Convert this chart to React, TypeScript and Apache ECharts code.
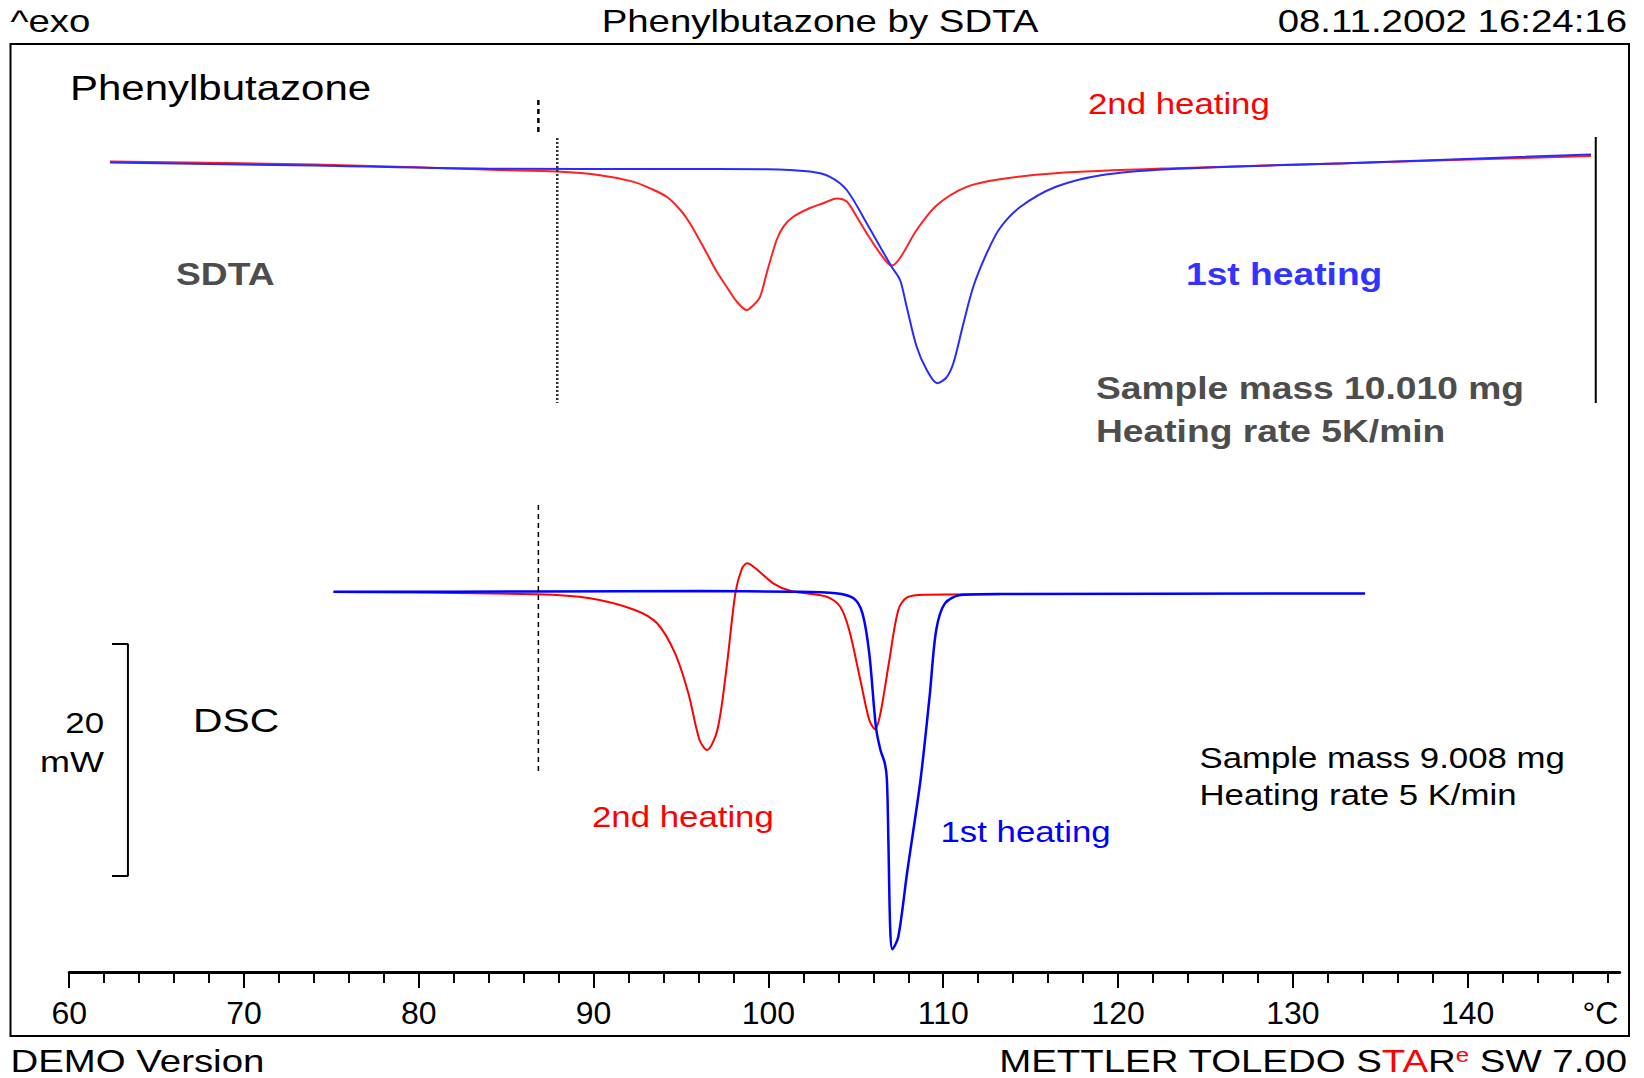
import React, { useEffect, useRef } from "react";
import * as echarts from "echarts";

// ---- SDTA (arbitrary K units, hidden axis) ----
const sdtaRedT = [62.33, 74.04, 84.65, 87.89, 90.37, 92.25, 93.24, 94.18, 94.96, 95.51, 96.47, 97.04, 97.61, 98.19, 98.76, 99.14, 99.52, 99.9, 100.47, 100.85, 101.42, 102.38, 103.14, 103.91, 104.48, 105.05, 105.62, 106.38, 107.05, 107.53, 108.48, 109.63, 111.34, 113.25, 116.45, 122.86, 133.05, 147.06];
const sdtaRedV = [0.006, -0.001, -0.015, -0.019, -0.028, -0.044, -0.061, -0.082, -0.115, -0.148, -0.223, -0.269, -0.307, -0.344, -0.365, -0.353, -0.332, -0.273, -0.19, -0.157, -0.132, -0.11, -0.098, -0.086, -0.094, -0.132, -0.173, -0.223, -0.254, -0.235, -0.165, -0.103, -0.057, -0.038, -0.023, -0.011, 0.002, 0.02];

const sdtaBlueT = [62.33, 74.04, 84.65, 94.18, 99.9, 102.38, 103.52, 104.48, 105.62, 107.05, 107.53, 107.91, 108.48, 109.06, 109.65, 110.16, 110.58, 111.13, 111.72, 112.49, 113.25, 114.42, 116.45, 119.03, 122.86, 133.05, 147.06];
const sdtaBlueV = [0.004, -0.004, -0.012, -0.0125, -0.013, -0.019, -0.032, -0.065, -0.148, -0.257, -0.29, -0.357, -0.457, -0.515, -0.548, -0.535, -0.498, -0.403, -0.307, -0.223, -0.16, -0.107, -0.057, -0.028, -0.013, 0.002, 0.024];

// ---- DSC (mW) ----
const dscRedT = [75.12, 86.74, 89.79, 92.36, 93.63, 94.66, 95.42, 96.06, 96.49, 97.08, 97.59, 98.11, 98.49, 98.79, 99.26, 100.27, 101.29, 103.34, 104.11, 104.62, 105.26, 105.77, 106.1, 106.41, 106.92, 107.43, 107.93, 108.96, 113.25];
const dscRedV = [-0.04, -0.24, -0.58, -1.59, -2.74, -5.33, -8.77, -12.8, -13.66, -11.94, -6.77, -0.15, 2.0, 2.43, 2.0, 0.71, 0.04, -0.45, -1.31, -3.32, -7.63, -11.08, -11.88, -10.5, -5.9, -1.59, -0.5, -0.27, -0.24];

const dscBlueT = [75.12, 86.93, 96.19, 101.29, 103.85, 104.87, 105.38, 105.77, 106.15, 106.41, 106.66, 106.78, 106.87, 106.97, 107.09, 107.43, 107.93, 108.7, 109.22, 109.6, 110.1, 111.0, 113.25, 134.13];
const dscBlueV = [-0.02, 0, 0.04, -0.02, -0.15, -0.59, -1.88, -5.33, -11.66, -13.66, -14.81, -16.25, -22.0, -29.18, -30.84, -29.76, -24.29, -16.25, -9.07, -3.32, -1.02, -0.3, -0.21, -0.17];

// ---- axis ticks ----
const majorTicks = [60, 70, 80, 90, 100, 110, 120, 130, 140];
const minorTicks = [62, 64, 66, 68, 72, 74, 76, 78, 82, 84, 86, 88, 92, 94, 96, 98, 102, 104, 106, 108, 112, 114, 116, 118, 122, 124, 126, 128, 132, 134, 136, 138, 142, 144, 146, 148];
const unitLabelPos = 147.6;

// ---- reference markers ----
const sdtaDashed = [[86.84, 0.16], [86.84, 0.08]];
const sdtaDotted = [[87.92, 0.065], [87.92, -0.5975]];
const sdtaRight = [[147.33, 0.0675], [147.33, -0.5975]];
const dscDashed = [[86.84, 7.46], [86.84, -15.82]];
const scaleBar = [[62.45, -4.53], [63.36, -4.53], [63.36, -24.53], [62.45, -24.53]];

const zip = (a: number[], b: number[]) => a.map((t, i) => [t, b[i]]);

const FONT = "'Liberation Sans', Arial, sans-serif";
const SX = 1.2;

function txt(text: string, x: number, y: number, size: number, opts: any = {}) {
  return {
    type: "text",
    x,
    y,
    scaleX: SX,
    silent: true,
    style: {
      text,
      fontSize: size,
      fontFamily: FONT,
      fontWeight: opts.bold ? "bold" : "normal",
      fill: opts.color || "#000",
      align: opts.align || "left",
      verticalAlign: "middle",
    },
  };
}

export default function App() {
  const ref = useRef<HTMLDivElement>(null);
  useEffect(() => {
    if (!ref.current) return;
    const chart = echarts.init(ref.current, undefined, { renderer: "svg" });
    const lineS = (data: number[][], color: string, yIdx: number, width = 2, type: any = "solid", smooth: any = 0.3, z = 2) => ({
      type: "line",
      data,
      xAxisIndex: 0,
      yAxisIndex: yIdx,
      showSymbol: false,
      symbol: "none",
      smooth,
      silent: true,
      z,
      lineStyle: { color, width, type },
    });
    const option: any = {
      animation: false,
      backgroundColor: "#ffffff",
      grid: { left: 69.2, right: 24.3, top: 44, bottom: 106, containLabel: false },
      xAxis: [
        {
          type: "value",
          min: 60,
          max: 148.7,
          position: "bottom",
          axisLine: { show: true, onZero: false, lineStyle: { color: "#000", width: 3 } },
          axisTick: { show: true, customValues: majorTicks, length: 16, lineStyle: { color: "#000", width: 2 } },
          axisLabel: {
            show: true,
            customValues: [...majorTicks, unitLabelPos],
            formatter: (v: number) => (v > 145 ? "°C" : String(v)),
            fontSize: 32,
            fontFamily: FONT,
            color: "#000",
            margin: 25,
          },
          splitLine: { show: false },
        },
        {
          type: "value",
          min: 60,
          max: 148.7,
          position: "bottom",
          axisLine: { show: false, onZero: false },
          axisTick: { show: true, customValues: minorTicks, length: 11, lineStyle: { color: "#000", width: 2 } },
          axisLabel: { show: false },
          splitLine: { show: false },
        },
      ],
      yAxis: [
        { type: "value", min: -32.8, max: 47.2, show: false, splitLine: { show: false } },
        { type: "value", min: -2.02, max: 0.3, show: false, splitLine: { show: false } },
      ],
      series: [
        lineS(zip(sdtaRedT, sdtaRedV), "#ff2020", 1),
        lineS(zip(sdtaBlueT, sdtaBlueV), "#2a2aff", 1),
        lineS(zip(dscRedT, dscRedV), "#ff0000", 0),
        lineS(zip(dscBlueT, dscBlueV), "#0000ff", 0, 2.5),
        lineS(sdtaDashed, "#000", 1, 2.5, [5, 4], false),
        lineS(sdtaDotted, "#333", 1, 2.5, [2, 2], false),
        lineS(sdtaRight, "#000", 1, 2, "solid", false),
        lineS(dscDashed, "#000", 0, 1.5, [5, 4], false),
        lineS(scaleBar, "#000", 0, 2, "solid", false),
      ],
      graphic: [
        {
          type: "rect",
          silent: true,
          shape: { x: 10.5, y: 44, width: 1618.5, height: 992 },
          style: { fill: "none", stroke: "#000", lineWidth: 2 },
        },
        txt("^exo", 10.5, 21, 32),
        txt("Phenylbutazone by SDTA", 820, 21, 32, { align: "center" }),
        txt("08.11.2002 16:24:16", 1627, 21, 32, { align: "right" }),
        txt("DEMO Version", 10.5, 1061, 32),
        {
          type: "text",
          x: 1627,
          y: 1061,
          scaleX: SX,
          silent: true,
          style: {
            text: "{a|METTLER TOLEDO S}{r|TA}{a|R}{s|e}{a| SW 7.00}",
            fontFamily: FONT,
            fontSize: 32,
            align: "right",
            verticalAlign: "middle",
            rich: {
              a: { fontSize: 32, fontFamily: FONT, fill: "#000" },
              r: { fontSize: 32, fontFamily: FONT, fill: "#ff0000" },
              s: { fontSize: 20, fontFamily: FONT, fill: "#ff0000", verticalAlign: "top" },
            },
          },
        },
        txt("Phenylbutazone", 70, 88, 35),
        txt("SDTA", 176, 274, 31, { bold: true, color: "#4d4d4d" }),
        txt("2nd heating", 1088, 104, 29, { color: "#ff0000" }),
        txt("1st heating", 1186, 274, 31, { bold: true, color: "#3333ff" }),
        txt("Sample mass 10.010 mg", 1096, 388, 31, { bold: true, color: "#4d4d4d" }),
        txt("Heating rate 5K/min", 1096, 431, 31, { bold: true, color: "#4d4d4d" }),
        txt("DSC", 193, 720, 34),
        txt("20", 104, 723, 29, { align: "right" }),
        txt("mW", 104, 762, 30, { align: "right" }),
        txt("2nd heating", 592, 817, 29, { color: "#ff0000" }),
        txt("1st heating", 940.5, 832.5, 29, { color: "#0000ff" }),
        txt("Sample mass 9.008 mg", 1199.5, 758, 29),
        txt("Heating rate 5 K/min", 1199.5, 795, 29),
      ],
    };
    chart.setOption(option);
    return () => chart.dispose();
  }, []);
  return (
    <div
      ref={ref}
      style={{ position: "fixed", left: 0, top: 0, width: 1644, height: 1078, background: "#fff" }}
    />
  );
}
